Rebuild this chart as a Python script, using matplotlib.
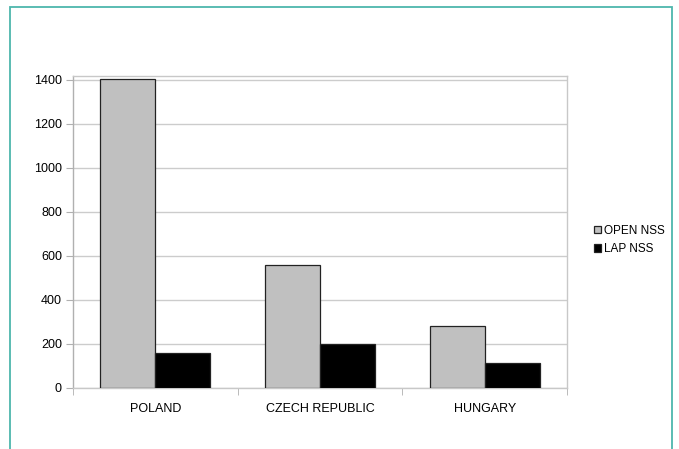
import numpy as np
import matplotlib.pyplot as plt
from matplotlib.patches import Rectangle

plt.rcParams['font.family'] = ['Liberation Sans', 'DejaVu Sans']

countries = ["POLAND", "CZECH REPUBLIC", "HUNGARY"]
open_nss = [1405, 560, 283]
lap_nss = [159, 200, 115]
yticks = [0, 200, 400, 600, 800, 1000, 1200, 1400]

fig = plt.figure(figsize=(6.79, 4.49), dpi=100)
ax = fig.add_axes([73/679, 1 - 388/449, (567 - 73)/679, (388 - 76)/449])

# teal frame round the whole chart
fig.patches.append(Rectangle((10/679, -0.1), (672 - 10)/679, 1.1 - 7/449,
                             transform=fig.transFigure, fill=False,
                             edgecolor="#4db6ac", linewidth=1.3))

x = np.arange(len(countries))
w = 0.335
ax.bar(x - w/2, open_nss, w, color="#c0c0c0", edgecolor="#222222",
       linewidth=0.9, label="OPEN NSS", zorder=3)
ax.bar(x + w/2, lap_nss, w, color="black", edgecolor="#222222",
       linewidth=0.9, label="LAP NSS", zorder=3)

ax.set_xlim(-0.5, 2.5)
ax.set_ylim(0, 1418)
ax.set_yticks(yticks)
ax.set_yticklabels([str(v) for v in yticks], fontsize=9)
ax.set_xticks(x)
ax.set_xticklabels(countries, fontsize=9)
ax.set_xticks([-0.5, 0.5, 1.5, 2.5], minor=True)
ax.tick_params(axis="x", which="major", length=0, pad=11)
ax.tick_params(axis="x", which="minor", length=5, color="#b0b0b0")
ax.tick_params(axis="y", length=5, color="#b0b0b0", pad=3)
ax.grid(axis="y", color="#cccccc", linewidth=1, zorder=0)

for side in ["top", "right", "left", "bottom"]:
    ax.spines[side].set_color("#c8c8c8")
    ax.spines[side].set_linewidth(1)
ax.spines["left"].set_color("#b0b0b0")

fig.legend(loc="center left", bbox_to_anchor=(589/679, 1 - 240/449),
           frameon=False, fontsize=8.5, handlelength=0.6, handleheight=0.6,
           handletextpad=0.3, labelspacing=0.55, borderaxespad=0)

fig.savefig("out.png", dpi=100)
